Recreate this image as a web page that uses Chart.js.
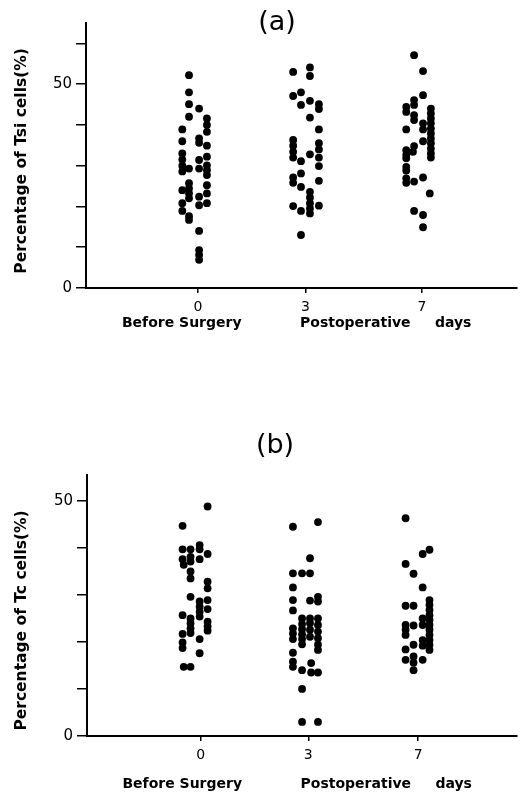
<!DOCTYPE html>
<html>
<head>
<meta charset="utf-8">
<script src="https://cdn.jsdelivr.net/npm/chart.js@4.4.0/dist/chart.umd.min.js"></script>
<style>
  body { margin: 0; background: #fff; }
  .panel { position: absolute; left: 0; width: 521px; }
</style>
</head>
<body>
<div class="panel" style="top:0;height:396px"><canvas id="chartA"></canvas></div>
<div class="panel" style="top:396px;height:397px"><canvas id="chartB"></canvas></div>
<script>
// dias (etiquetas del eje x) y posicion de cada grupo en el eje
const dayLabels = ['0', '3', '7'];
const dayPosA = [1, 1.96, 3.0];
const dayPosB = [1, 1.945, 2.91];

// (a) Tsi cells, pares [x, %]
const tsiDay0 = [[0.92,52.2],[0.92,48.0],[0.92,45.1],[1.01,44.0],[0.92,42.0],
  [1.08,41.6],[1.08,40.0],[1.08,38.3],[0.86,38.9],[1.01,36.7],[1.01,35.6],[0.86,36.0],[1.08,34.9],
  [0.86,33.0],[0.86,31.5],[0.86,30.0],[0.86,28.6],[1.08,32.2],[1.01,31.4],[1.01,29.3],
  [1.08,30.1],[1.08,28.9],[1.08,27.7],[0.92,29.3],[0.92,25.7],[0.92,24.4],[0.92,23.2],[0.92,22.0],
  [1.08,25.2],[1.08,23.2],[0.86,24.0],[1.01,22.4],[1.01,20.3],[1.08,20.8],
  [0.86,20.8],[0.86,18.9],[0.92,17.6],[0.92,16.7],[1.01,14.0],[1.01,9.3],[1.01,8.1],[1.01,6.9]];
const tsiDay3 = [[1.85,53.0],[2.00,54.1],[2.00,52.0],[1.92,48.0],[1.85,47.1],[2.00,45.9],[1.92,44.9],
  [2.08,45.1],[2.08,43.9],[2.00,41.8],[2.08,38.9],[1.85,36.3],[1.85,34.9],[1.85,33.4],[1.85,32.0],
  [2.08,35.5],[2.08,34.0],[2.08,32.0],[2.00,32.8],[1.92,31.1],[2.08,29.9],[1.92,28.1],[1.85,27.1],
  [1.85,25.8],[1.92,24.8],[2.08,26.3],[2.00,23.6],[2.00,22.2],[2.00,20.8],[2.00,19.5],[2.00,18.3],
  [1.85,20.1],[1.92,18.9],[2.08,20.2],[1.92,13.0]];
const tsiDay7 = [[2.93,57.1],[3.01,53.2],[3.01,47.3],[2.93,46.1],[2.93,44.9],[2.86,44.4],[2.86,43.2],
  [3.08,44.0],[3.08,42.8],[3.08,41.6],[3.08,40.4],[3.08,39.1],[3.08,37.9],[3.08,36.7],[3.08,35.5],
  [3.08,34.2],[3.08,33.0],[3.08,32.0],[2.93,42.4],[2.93,41.2],[3.01,40.4],[3.01,38.9],[2.86,38.9],
  [3.01,36.0],[2.93,34.8],[2.92,33.4],[2.86,33.8],[2.86,32.6],[2.86,31.8],[2.86,29.7],[2.86,28.8],
  [2.86,26.9],[2.86,25.8],[2.93,26.1],[3.01,27.1],[3.07,23.2],[2.93,18.9],[3.01,17.9],[3.01,14.9]];

// (b) Tc cells
const tcDay0 = [[1.06,48.8],[0.84,44.7],[0.99,40.6],[0.99,39.7],[0.84,39.7],[0.91,39.7],[1.06,38.7],
  [0.99,37.6],[0.84,37.6],[0.85,36.4],[0.91,38.1],[0.91,37.1],[0.91,35.0],[0.91,33.5],[1.06,32.8],
  [1.06,31.4],[0.91,29.6],[0.99,28.6],[0.99,27.5],[0.99,26.4],[0.99,25.4],[1.06,28.9],[1.06,27.0],
  [1.06,24.3],[1.06,23.3],[1.06,22.4],[0.84,25.7],[0.91,25.0],[0.91,24.0],[0.91,22.9],[0.91,21.9],
  [0.84,21.7],[0.84,19.9],[0.84,18.7],[0.99,20.6],[0.99,17.6],[0.85,14.7],[0.91,14.7]];
const tcDay3 = [[1.81,44.5],[2.03,45.5],[1.96,37.8],[1.81,34.6],[1.89,34.6],[1.96,34.6],[1.81,31.6],
  [1.81,28.9],[1.96,28.8],[2.03,29.6],[2.03,28.6],[1.81,26.7],[1.89,25.0],[1.89,23.8],[1.89,22.7],
  [1.89,21.6],[1.89,20.6],[1.89,19.5],[1.96,25.0],[1.96,24.0],[1.96,22.6],[1.96,21.1],[2.03,25.0],
  [2.03,23.6],[2.03,22.2],[2.03,20.8],[2.03,19.4],[2.03,18.3],[1.81,22.9],[1.81,21.8],[1.81,20.6],
  [1.81,17.7],[1.81,15.8],[1.81,14.7],[1.89,14.0],[1.97,15.5],[1.97,13.5],[2.03,13.5],[1.89,10.0],
  [1.89,3.0],[2.03,3.0]];
const tcDay7 = [[2.80,46.3],[3.01,39.6],[2.95,38.7],[2.80,36.6],[2.87,34.5],[2.95,31.6],[2.80,27.7],
  [2.87,27.7],[3.01,28.9],[3.01,27.9],[3.01,26.8],[3.01,25.7],[3.01,24.7],[3.01,23.6],[3.01,22.6],
  [3.01,21.5],[3.01,20.4],[3.01,19.4],[3.01,18.3],[2.95,25.0],[2.95,23.6],[2.80,23.6],[2.80,22.6],
  [2.80,21.5],[2.87,23.5],[2.95,20.4],[2.95,19.2],[2.87,19.4],[2.80,18.4],[2.80,16.2],[2.87,16.9],
  [2.87,15.6],[2.87,14.0],[2.95,16.2]];

const xTitle = 'Before Surgery            Postoperative     days  ';

// etiqueta (a) / (b) encima de cada panel
const panelLabel = {
  id: 'panelLabel',
  afterDraw(chart, args, opts) {
    const ctx = chart.ctx;
    ctx.save();
    ctx.font = '27px "DejaVu Sans"';
    ctx.fillStyle = '#000';
    ctx.textAlign = 'center';
    ctx.textBaseline = 'alphabetic';
    ctx.fillText(opts.text, opts.x, opts.y);
    ctx.restore();
  }
};

function crearPanel(id, cfg) {
  const datasets = cfg.groups.map(g => ({
    data: g.map(p => ({ x: p[0], y: p[1] })),
    backgroundColor: '#000',
    borderColor: '#000',
    borderWidth: 0,
    pointRadius: 3.9,
    pointHoverRadius: 3.9
  }));

  return new Chart(document.getElementById(id), {
    type: 'scatter',
    data: { datasets: datasets },
    options: {
      responsive: true,
      maintainAspectRatio: false,
      animation: false,
      layout: { padding: { top: cfg.padTop, left: 0, right: 0, bottom: 0 } },
      plugins: {
        legend: { display: false },
        tooltip: { enabled: false },
        panelLabel: { text: cfg.label, x: cfg.labelX, y: cfg.labelY }
      },
      scales: {
        x: {
          type: 'linear',
          min: 0,
          max: cfg.xMax,
          afterFit: s => { s.height = cfg.xHeight; },
          afterBuildTicks: s => { s.ticks = cfg.dayPos.map(v => ({ value: v })); },
          ticks: {
            callback: (v, i) => dayLabels[i],
            color: '#000',
            font: { family: 'DejaVu Sans', size: 14 },
            padding: 6,
            maxRotation: 0,
            autoSkip: false
          },
          grid: { drawOnChartArea: false, color: '#000', tickLength: 5, lineWidth: 1.5 },
          border: { color: '#000', width: 2 },
          title: {
            display: true,
            text: xTitle,
            color: '#000',
            font: { family: 'DejaVu Sans', size: 14, weight: 'bold' },
            padding: { top: 0, bottom: cfg.xTitlePad }
          }
        },
        y: {
          min: 0,
          max: cfg.yMax,
          afterFit: s => { s.width = cfg.yWidth; },
          ticks: {
            stepSize: 10,
            includeBounds: false,
            callback: v => (v === 0 || v === 50) ? v : '',
            color: '#000',
            font: { family: 'DejaVu Sans', size: 15 },
            padding: 4
          },
          grid: { drawOnChartArea: false, color: '#000', tickLength: 10, lineWidth: 1.5 },
          border: { color: '#000', width: 2 },
          title: {
            display: true,
            text: cfg.yTitle,
            align: cfg.yAlign,
            color: '#000',
            font: { family: 'DejaVu Sans', size: 15.5, weight: 'bold' },
            padding: { top: 13, bottom: 0 }
          }
        }
      }
    },
    plugins: [panelLabel]
  });
}

crearPanel('chartA', {
  groups: [tsiDay0, tsiDay3, tsiDay7],
  dayPos: dayPosA, xMax: 3.85, yMax: 65,
  padTop: 23, xHeight: 108, yWidth: 86, xTitlePad: 64.6,
  yTitle: 'Percentage of Tsi cells(%)  ', yAlign: 'center',
  label: '(a)', labelX: 277, labelY: 30
});

crearPanel('chartB', {
  groups: [tcDay0, tcDay3, tcDay7],
  dayPos: dayPosB, xMax: 3.78, yMax: 55.5,
  padTop: 79, xHeight: 57, yWidth: 87, xTitlePad: 0.6,
  yTitle: ' Percentage of Tc cells(%)', yAlign: 'start',
  label: '(b)', labelX: 275, labelY: 57
});
</script>
</body>
</html>
